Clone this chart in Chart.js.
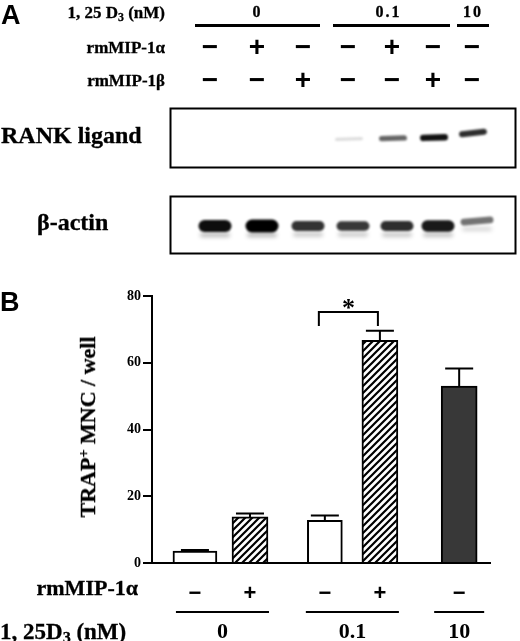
<!DOCTYPE html>
<html>
<head>
<meta charset="utf-8">
<script src="https://cdn.jsdelivr.net/npm/chart.js@4.4.1/dist/chart.umd.min.js"></script>
<style>
  html, body { margin: 0; padding: 0; background: #fff; }
  #fig { position: relative; width: 520px; height: 641px; overflow: hidden; background: #fff; }
  .t { position: absolute; white-space: nowrap; line-height: 1; color: #000; }
  .serif { font-family: "Liberation Serif", "Times New Roman", serif; font-weight: bold; -webkit-text-stroke: 0.3px #000; }
  .sans { font-family: "Liberation Sans", Arial, sans-serif; font-weight: bold; }
  sub { font-size: 0.7em; vertical-align: baseline; position: relative; top: 0.25em; }
  sup { font-size: 0.65em; vertical-align: baseline; position: relative; top: -0.5em; }
  .rule { position: absolute; background: #000; }
  #blot { position: absolute; left: 0; top: 0; }
  #chartBox { position: absolute; left: 0; top: 280px; width: 520px; height: 361px; }
</style>
</head>
<body>
<div id="fig">
  <canvas id="blot" width="520" height="280"></canvas>
  <div id="chartBox"><canvas id="chart"></canvas></div>
</div>
<script>
// ---- panel A: treatments per lane + blot band strength ----
const laneX = [210, 257, 303, 348, 392, 433, 472];
const d3GroupsA = [
  { label: "0", from: 0, to: 2 },
  { label: "0.1", from: 3, to: 5 },
  { label: "10", from: 6, to: 6 },
];
const mip1aA = ["−", "+", "−", "−", "+", "−", "−"];
const mip1bA = ["−", "−", "+", "−", "−", "+", "−"];
const rankL = [0, 0, 0, 0.12, 0.55, 0.85, 0.75];
const actin = [0.95, 1, 0.8, 0.78, 0.82, 0.9, 0.55];

// ---- panel B: TRAP+ MNC / well ----
const mip1aB = ["−", "+", "−", "+", "−"];
const trapMean = [3.6, 13.8, 12.8, 66.7, 53.0];
const trapErr = [0.3, 1.0, 1.4, 2.9, 5.3];
const barSlot = [1, 2, 3.36, 4.36, 5.8];
const d3GroupsB = [
  { label: "0", bars: [0, 1] },
  { label: "0.1", bars: [2, 3] },
  { label: "10", bars: [4] },
];
const sigPair = [2, 3];

const fig = document.getElementById("fig");
function put(html, x, y, cls, size, align) {
  const d = document.createElement("div");
  d.className = "t " + cls;
  d.style.fontSize = size + "px";
  d.style.left = x + "px";
  d.style.top = y + "px";
  const tx = align === "right" ? "-100%" : align === "left" ? "0" : "-50%";
  d.style.transform = `translate(${tx},-50%)`;
  d.innerHTML = html;
  fig.appendChild(d);
  return d;
}
function rule(x0, x1, y, h) {
  const r = document.createElement("div");
  r.className = "rule";
  Object.assign(r.style, { left: x0 + "px", width: (x1 - x0) + "px", top: (y - h / 2) + "px", height: h + "px" });
  fig.appendChild(r);
}

// panel labels
put("A", 1, 15, "sans", 27, "left");
put("B", 0, 302, "sans", 27, "left");

// treatment table
put("1, 25 D<sub>3</sub> (nM)", 165, 12, "serif", 17, "right");
put("rmMIP-1α", 165, 47, "serif", 17, "right");
put("rmMIP-1β", 165, 80, "serif", 17, "right");
d3GroupsA.forEach(g => {
  const x0 = laneX[g.from] - 15, x1 = laneX[g.to] + 17;
  rule(x0, x1, 25, 3);
  const lbl = put(g.label, (x0 + x1) / 2 - (g.label === "0.1" ? 3 : 0), 12, "serif", 16, "center");
  lbl.style.letterSpacing = "2px";
});
laneX.forEach((x, i) => {
  put(mip1aA[i], x, 47, "sans", 28, "center");
  put(mip1bA[i], x, 80, "sans", 28, "center");
});
put("RANK ligand", 1, 135, "serif", 24, "left");
put("β-actin", 37, 222, "serif", 24, "left");

// blot image
const bc = document.getElementById("blot").getContext("2d");
function band(x, y, w, h, a, rot, blur) {
  bc.save();
  bc.filter = `blur(${blur}px)`;
  bc.fillStyle = `rgba(0,0,0,${a})`;
  bc.translate(x, y);
  bc.rotate(rot || 0);
  bc.beginPath();
  bc.roundRect(-w / 2, -h / 2, w, h, h / 2);
  bc.fill();
  bc.restore();
}
bc.lineWidth = 2;
bc.strokeStyle = "#000";
bc.strokeRect(170.5, 108.5, 345, 59);
bc.strokeRect(170.5, 196.5, 345, 57);
laneX.forEach((x, i) => {
  const a = rankL[i];
  if (a > 0) {
    const y = i === 6 ? 133 : 139 - (i - 3) * 0.7;
    band(x + 1, y, 28, 3 + 4 * a, Math.min(1, a * 1.1), i === 6 ? -0.12 : -0.03, 1.2);
  }
  const b = actin[i];
  const ya = i === 6 ? 221 : 226;
  band(x + 5, ya, 33, 4 + 9 * b * b, b, i === 6 ? -0.08 : 0, 1.3);
  band(x + 5, ya + 7 + 2 * b, 30, 4, b * 0.3, 0, 2);
});

// y axis title
const yt = put("TRAP<sup>+</sup> MNC / well", 88, 427, "serif", 22, "center");
yt.style.transform = "translate(-50%,-50%) rotate(-90deg)";

// x axis side labels
put("rmMIP-1α", 138, 588, "serif", 22, "right");
put("1, 25D<sub>3</sub> (nM)", 0, 631, "serif", 23, "left");

// ---- bar chart ----
const hatch = (() => {
  const c = document.createElement("canvas");
  c.width = c.height = 7;
  const g = c.getContext("2d");
  g.fillStyle = "#fff";
  g.fillRect(0, 0, 7, 7);
  g.strokeStyle = "#000";
  g.lineWidth = 2.2;
  g.beginPath();
  g.moveTo(-1, 8); g.lineTo(8, -1);
  g.moveTo(-1, 1); g.lineTo(1, -1);
  g.moveTo(6, 8); g.lineTo(8, 6);
  g.stroke();
  return g.createPattern(c, "repeat");
})();
const fills = ["#fff", hatch, "#fff", hatch, "#383838"];
const widths = [44, 36, 35, 36, 36];

const extras = {
  id: "extras",
  afterDatasetsDraw(chart) {
    const { ctx, scales: { x, y } } = chart;
    ctx.save();
    ctx.strokeStyle = "#000";
    ctx.lineWidth = 2;
    trapMean.forEach((v, i) => {
      const px = x.getPixelForValue(barSlot[i]);
      const y0 = y.getPixelForValue(v), y1 = y.getPixelForValue(v + trapErr[i]);
      ctx.beginPath();
      ctx.moveTo(px, y0); ctx.lineTo(px, y1);
      ctx.moveTo(px - 14, y1); ctx.lineTo(px + 14, y1);
      ctx.stroke();
    });
    // significance bracket
    const xl = x.getPixelForValue(barSlot[sigPair[0]]) - 6;
    const xr = x.getPixelForValue(barSlot[sigPair[1]]) - 2;
    const yTop = y.getPixelForValue(75.2), yLeg = y.getPixelForValue(71);
    ctx.beginPath();
    ctx.moveTo(xl, yLeg); ctx.lineTo(xl, yTop); ctx.lineTo(xr, yTop); ctx.lineTo(xr, yLeg);
    ctx.stroke();
    ctx.fillStyle = "#000";
    ctx.font = "bold 26px 'Liberation Serif'";
    ctx.textAlign = "center";
    ctx.textBaseline = "alphabetic";
    ctx.fillText("*", (xl + xr) / 2, yTop + 4);
    ctx.restore();
  },
  afterDraw(chart) {
    const { ctx, scales: { x } } = chart;
    ctx.save();
    ctx.fillStyle = "#000";
    ctx.strokeStyle = "#000";
    ctx.lineWidth = 2;
    ctx.font = "bold 22px 'Liberation Serif'";
    ctx.textAlign = "center";
    ctx.textBaseline = "middle";
    d3GroupsB.forEach(g => {
      const ps = g.bars.map(b => x.getPixelForValue(barSlot[b]));
      const ext = g.bars.length > 1 ? 19 : 25;
      const x0 = Math.min(...ps) - ext, x1 = Math.max(...ps) + ext;
      ctx.beginPath();
      ctx.moveTo(x0, 332); ctx.lineTo(x1, 332);
      ctx.stroke();
      ctx.fillText(g.label, (Math.min(...ps) + Math.max(...ps)) / 2, 352);
    });
    ctx.restore();
  },
};

new Chart(document.getElementById("chart"), {
  type: "bar",
  data: {
    datasets: trapMean.map((v, i) => ({
      data: [{ x: barSlot[i], y: v }],
      backgroundColor: fills[i],
      borderColor: "#000",
      borderWidth: 2,
      barThickness: widths[i],
      grouped: false,
    })),
  },
  options: {
    responsive: true, maintainAspectRatio: false, animation: false, events: [],
    layout: { padding: { top: 16, right: 30, left: 0, bottom: 0 } },
    plugins: { legend: { display: false }, tooltip: { enabled: false } },
    scales: {
      x: {
        type: "linear", min: 0.22, max: 6.36, offset: false,
        grid: { display: false },
        border: { display: true, color: "#000", width: 2 },
        afterBuildTicks: s => { s.ticks = barSlot.map(v => ({ value: v })); },
        afterFit: s => { s.height = 78; },
        ticks: {
          autoSkip: false, maxRotation: 0, padding: 10, color: "#000",
          font: { family: "Liberation Sans", size: 22, weight: "bold" },
          callback: (v, i) => mip1aB[i],
        },
      },
      y: {
        min: 0, max: 80,
        afterFit: s => { s.width = 152; },
        grid: { drawOnChartArea: false, drawTicks: true, tickLength: 9, color: "#000", lineWidth: 2 },
        border: { display: true, color: "#000", width: 2 },
        ticks: {
          stepSize: 20, padding: 2, color: "#000",
          font: { family: "Liberation Serif", size: 14, weight: "bold" },
        },
      },
    },
  },
  plugins: [extras],
});
</script>
</body>
</html>
